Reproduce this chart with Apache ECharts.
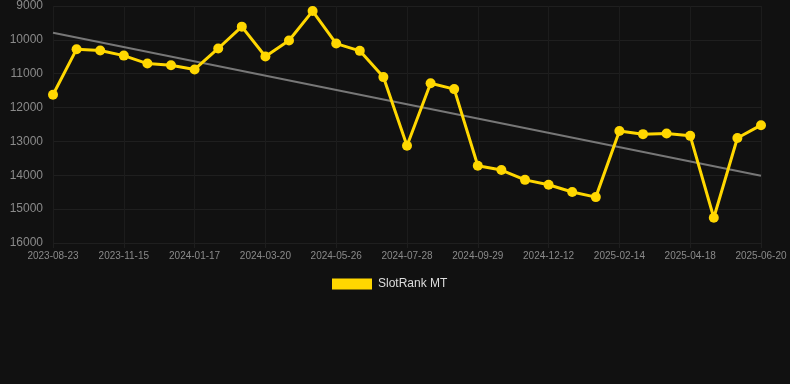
<!DOCTYPE html>
<html><head><meta charset="utf-8">
<script src="https://cdn.jsdelivr.net/npm/echarts@6/dist/echarts.min.js"></script>
<style>html,body{margin:0;padding:0;background:#111111;}#c{width:790px;height:384px;}</style>
</head><body><div id="c"></div>
<script>
var dates = ["2023-08-23","2023-09-20","2023-10-18","2023-11-15","2023-12-06","2023-12-27","2024-01-17","2024-02-07","2024-02-28","2024-03-20","2024-04-10","2024-05-01","2024-05-26","2024-06-16","2024-07-07","2024-07-28","2024-08-18","2024-09-08","2024-09-29","2024-10-24","2024-11-18","2024-12-12","2025-01-06","2025-01-25","2025-02-14","2025-03-07","2025-03-28","2025-04-18","2025-05-09","2025-05-30","2025-06-20"];
var rankValues = [11620,10275,10315,10465,10700,10750,10875,10255,9610,10490,10020,9150,10110,10325,11100,13130,11280,11455,13720,13845,14135,14280,14495,14645,12690,12785,12765,12835,15255,12900,12520];
var trendValues = [9790,14015];
var yTicks = [9000,16000,1000];

var chart = echarts.init(document.getElementById('c'));
chart.setOption({
  backgroundColor:'#111111',
  animation:false,
  grid:{left:53,right:29,top:6,bottom:141,containLabel:false},
  legend:{data:['SlotRank MT'],top:278,left:332,padding:0,itemWidth:40,itemHeight:11,icon:'rect',itemGap:10,
    textStyle:{color:'#dddddd',fontSize:12,padding:[0,0,0,1],fontFamily:'Arial, Liberation Sans, sans-serif'}},
  xAxis:{type:'category',data:dates,boundaryGap:false,
    axisLine:{show:false},
    axisTick:{show:true,interval:2,length:5,lineStyle:{color:'#1e1e1e'}},
    splitLine:{show:true,interval:2,lineStyle:{color:'#1c1c1c'}},
    axisLabel:{interval:2,color:'#8a8a8a',fontSize:10,margin:8,fontFamily:'Arial, Liberation Sans, sans-serif'}},
  yAxis:{type:'value',inverse:true,min:yTicks[0],max:yTicks[1],interval:yTicks[2],
    axisLine:{show:false},axisTick:{show:false},
    splitLine:{lineStyle:{color:'#1f1f1f'}},
    axisLabel:{color:'#8a8a8a',fontSize:12,margin:10,formatter:function(v){return String(v);},fontFamily:'Arial, Liberation Sans, sans-serif'}},
  series:[
    {name:'Trend',type:'line',data:[[dates[0],trendValues[0]],[dates[dates.length-1],trendValues[1]]],
      symbol:'none',lineStyle:{color:'#777777',width:2},z:1,silent:true},
    {name:'SlotRank MT',type:'line',data:rankValues,symbol:'circle',symbolSize:10,
      itemStyle:{color:'#FFD700'},lineStyle:{color:'#FFD700',width:3},z:2}
  ]
});
</script></body></html>
